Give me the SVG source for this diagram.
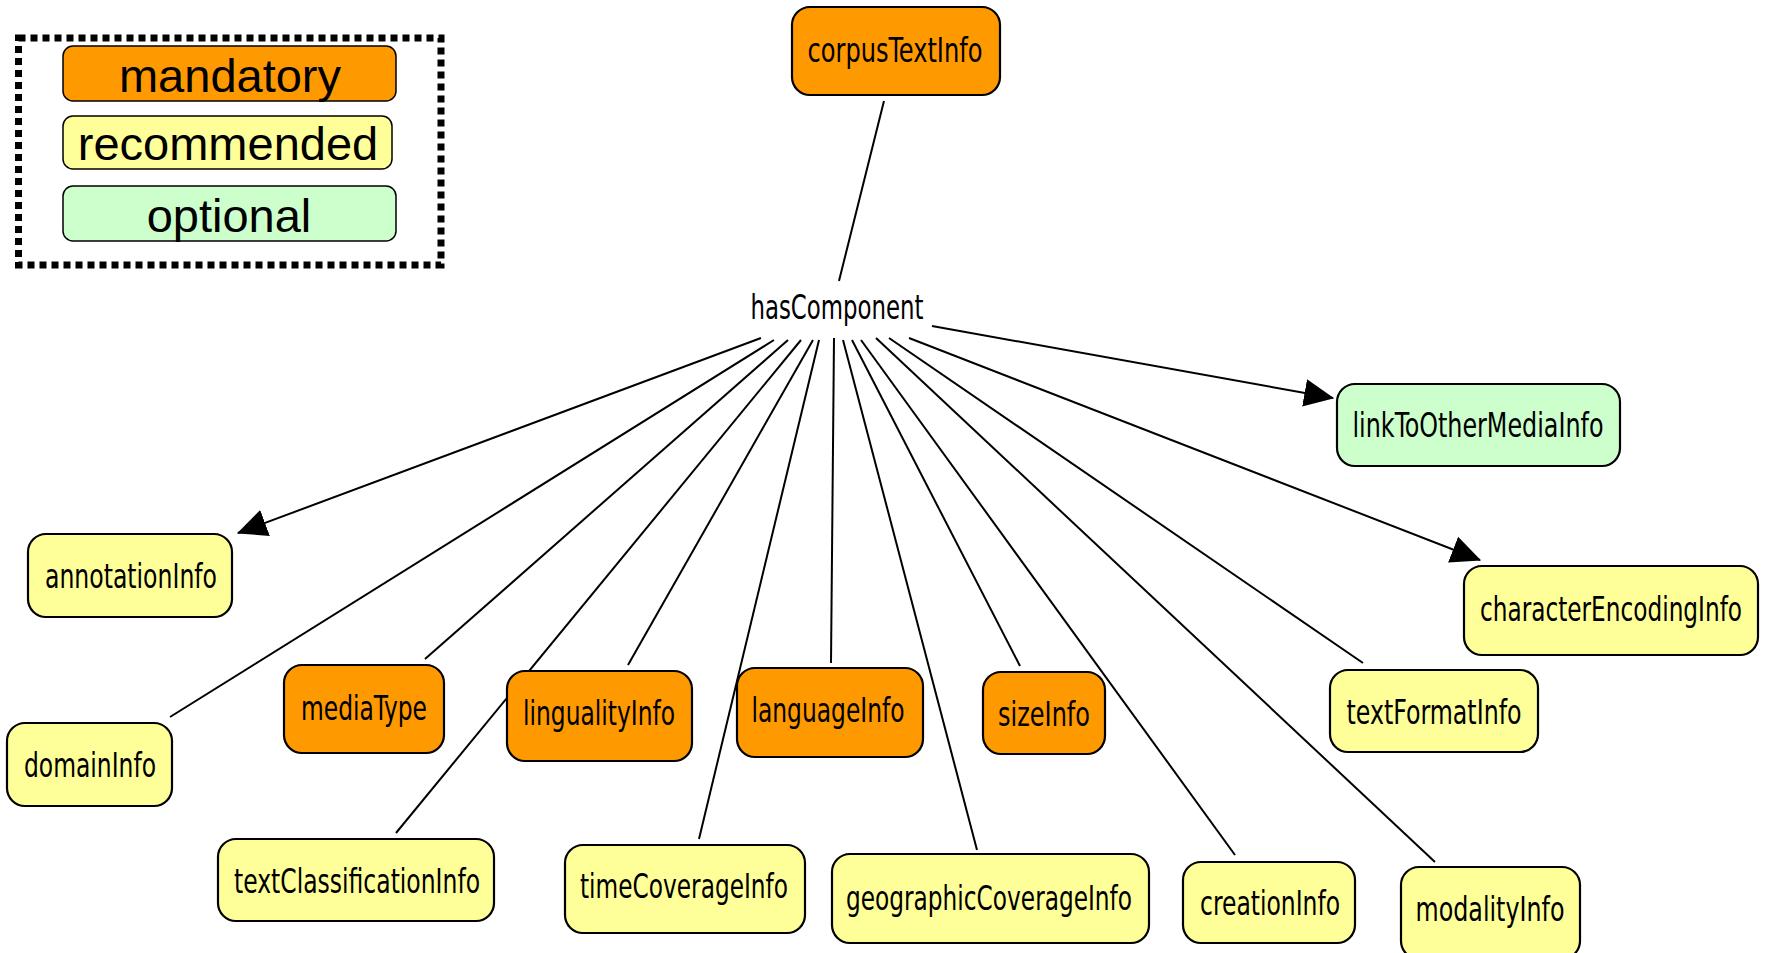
<svg xmlns="http://www.w3.org/2000/svg" width="1765" height="953" viewBox="0 0 1765 953">
<style>
.n{stroke:#000;stroke-width:2.2}
.m{fill:#FF9900}
.r{fill:#FFFF99}
.o{fill:#CCFFCC}
.t{font-family:"DejaVu Sans Condensed","DejaVu Sans",Verdana,sans-serif;font-stretch:condensed;font-size:33px;fill:#000;text-anchor:middle}
.lg{font-family:"Liberation Sans",Arial,sans-serif;font-size:47px;fill:#000;text-anchor:middle}
.c{stroke:#000;stroke-width:2;fill:none}
</style>
<defs>
<marker id="ah" markerUnits="userSpaceOnUse" markerWidth="30" markerHeight="30" viewBox="0 0 26 24" refX="25" refY="12" orient="auto">
<path d="M0,0 L26,12 L0,24 Z" fill="#000"/>
</marker>
</defs>
<rect width="1765" height="953" fill="#fff"/>
<g id="legend">
<rect x="18.5" y="38" width="422.5" height="227" fill="none" stroke="#000" stroke-width="7" stroke-dasharray="7 5"/>
<rect x="63" y="46" width="333" height="55" rx="10" class="m" stroke="#000" stroke-width="1.5"/>
<text x="230" y="92" class="lg">mandatory</text>
<rect x="63" y="116" width="329" height="53" rx="10" class="r" stroke="#000" stroke-width="1.5"/>
<text x="228" y="160" class="lg">recommended</text>
<rect x="63" y="186" width="333" height="55" rx="10" class="o" stroke="#000" stroke-width="1.5"/>
<text x="229" y="232" class="lg">optional</text>
</g>
<g id="connectors">
<line class="c" x1="884" y1="101" x2="839" y2="281"/>
<line class="c" x1="761" y1="338" x2="238" y2="533" stroke-width="3" marker-end="url(#ah)"/>
<line class="c" x1="774" y1="340" x2="170" y2="717"/>
<line class="c" x1="788" y1="340" x2="425" y2="659"/>
<line class="c" x1="801" y1="340" x2="396" y2="833"/>
<line class="c" x1="813" y1="340" x2="628" y2="665"/>
<line class="c" x1="819" y1="340" x2="699" y2="839"/>
<line class="c" x1="834" y1="338" x2="831" y2="663"/>
<line class="c" x1="843" y1="340" x2="977" y2="850"/>
<line class="c" x1="852" y1="340" x2="1020" y2="666"/>
<line class="c" x1="861" y1="340" x2="1235" y2="855"/>
<line class="c" x1="876" y1="338" x2="1435" y2="862"/>
<line class="c" x1="889" y1="338" x2="1363" y2="663"/>
<line class="c" x1="909" y1="338" x2="1480" y2="560" stroke-width="3" marker-end="url(#ah)"/>
<line class="c" x1="932" y1="326" x2="1333" y2="398" stroke-width="3" marker-end="url(#ah)"/>
</g>
<g id="hasComponent"><text x="837" y="319" class="t" font-size="36" textLength="173" lengthAdjust="spacingAndGlyphs">hasComponent</text></g>
<g id="corpusTextInfo"><rect x="792" y="7" width="208" height="88" rx="18" class="n m"/><text x="895" y="62" class="t" textLength="175" lengthAdjust="spacingAndGlyphs">corpusTextInfo</text></g>
<g id="linkToOtherMediaInfo"><rect x="1337" y="384" width="283" height="82" rx="18" class="n o"/><text x="1478" y="437" class="t" textLength="251" lengthAdjust="spacingAndGlyphs">linkToOtherMediaInfo</text></g>
<g id="characterEncodingInfo"><rect x="1464" y="566" width="294" height="89" rx="18" class="n r"/><text x="1611" y="621" class="t" font-size="31" textLength="262" lengthAdjust="spacingAndGlyphs">characterEncodingInfo</text></g>
<g id="annotationInfo"><rect x="28" y="534" width="204" height="83" rx="18" class="n r"/><text x="131" y="588" class="t" textLength="172" lengthAdjust="spacingAndGlyphs">annotationInfo</text></g>
<g id="domainInfo"><rect x="7" y="723" width="165" height="83" rx="18" class="n r"/><text x="90" y="777" class="t" textLength="132" lengthAdjust="spacingAndGlyphs">domainInfo</text></g>
<g id="mediaType"><rect x="284" y="665" width="160" height="88" rx="18" class="n m"/><text x="364" y="720" class="t" textLength="126" lengthAdjust="spacingAndGlyphs">mediaType</text></g>
<g id="lingualityInfo"><rect x="507" y="671" width="185" height="90" rx="18" class="n m"/><text x="599" y="725" class="t" textLength="152" lengthAdjust="spacingAndGlyphs">lingualityInfo</text></g>
<g id="languageInfo"><rect x="737" y="668" width="186" height="89" rx="18" class="n m"/><text x="828" y="722" class="t" textLength="153" lengthAdjust="spacingAndGlyphs">languageInfo</text></g>
<g id="sizeInfo"><rect x="983" y="672" width="122" height="82" rx="18" class="n m"/><text x="1044" y="726" class="t" textLength="92" lengthAdjust="spacingAndGlyphs">sizeInfo</text></g>
<g id="textFormatInfo"><rect x="1330" y="670" width="208" height="82" rx="18" class="n r"/><text x="1434" y="724" class="t" textLength="175" lengthAdjust="spacingAndGlyphs">textFormatInfo</text></g>
<g id="textClassificationInfo"><rect x="218" y="839" width="276" height="82" rx="18" class="n r"/><text x="357" y="893" class="t" textLength="246" lengthAdjust="spacingAndGlyphs">textClassificationInfo</text></g>
<g id="timeCoverageInfo"><rect x="565" y="845" width="240" height="88" rx="18" class="n r"/><text x="684" y="898" class="t" textLength="208" lengthAdjust="spacingAndGlyphs">timeCoverageInfo</text></g>
<g id="geographicCoverageInfo"><rect x="832" y="854" width="317" height="89" rx="18" class="n r"/><text x="989" y="910" class="t" textLength="286" lengthAdjust="spacingAndGlyphs">geographicCoverageInfo</text></g>
<g id="creationInfo"><rect x="1183" y="862" width="172" height="81" rx="18" class="n r"/><text x="1270" y="915" class="t" textLength="140" lengthAdjust="spacingAndGlyphs">creationInfo</text></g>
<g id="modalityInfo"><rect x="1401" y="867" width="179" height="92" rx="18" class="n r"/><text x="1490" y="921" class="t" textLength="149" lengthAdjust="spacingAndGlyphs">modalityInfo</text></g>
</svg>
